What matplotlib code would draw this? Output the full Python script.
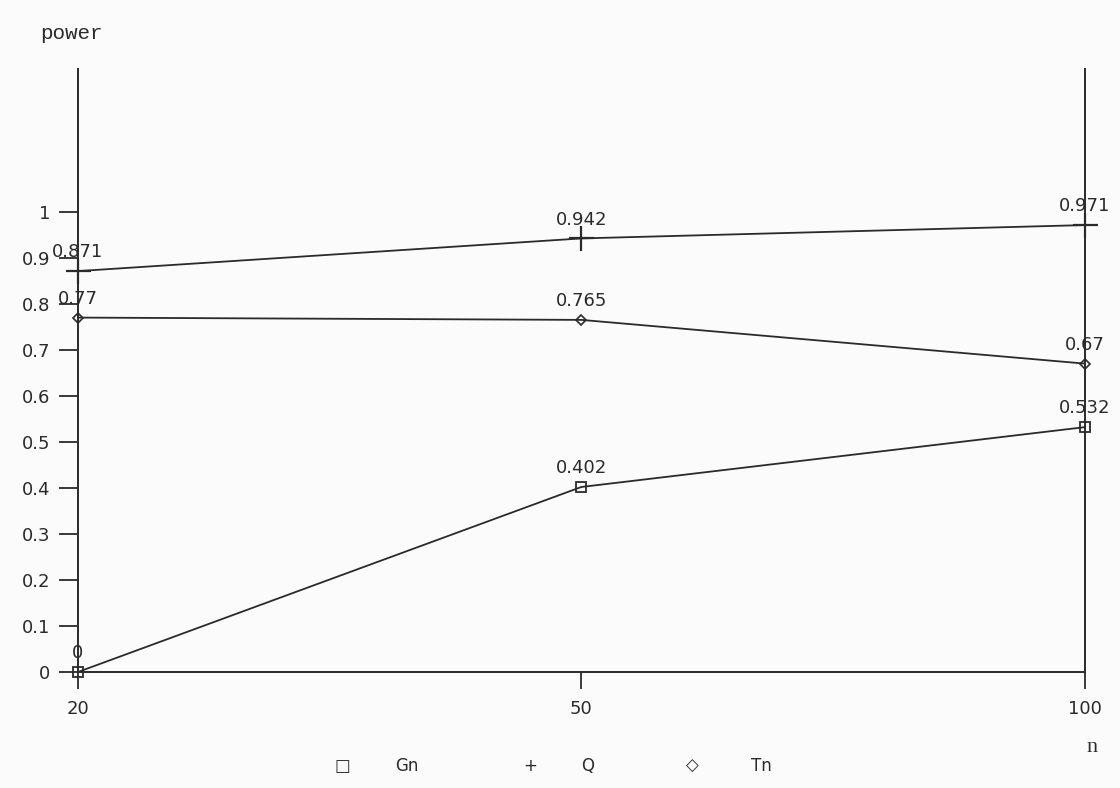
import matplotlib
matplotlib.use('Agg')
import matplotlib.pyplot as plt

# data
n_labels = ['20', '50', '100']
gn = [0.0, 0.402, 0.532]
q = [0.871, 0.942, 0.971]
tn = [0.77, 0.765, 0.67]
gn_text = ['0', '0.402', '0.532']
q_text = ['0.871', '0.942', '0.971']
tn_text = ['0.77', '0.765', '0.67']
yticks = [0, 0.1, 0.2, 0.3, 0.4, 0.5, 0.6, 0.7, 0.8, 0.9, 1]
ytick_labels = ['0', '0.1', '0.2', '0.3', '0.4', '0.5', '0.6', '0.7', '0.8', '0.9', '1']

ink = '#2a2a2a'
plt.rcParams['font.family'] = 'DejaVu Sans'
plt.rcParams['font.size'] = 13

fig = plt.figure(figsize=(11.2, 7.88), dpi=100)
fig.patch.set_facecolor('#fbfbfb')
ax = fig.add_axes([0.0696, 0.1472, 0.899, 0.7652])
ax.set_facecolor('#fbfbfb')

x = list(range(len(n_labels)))
ax.plot(x, gn, color=ink, lw=1.3, marker='s', ms=7, mfc='none', mec=ink, mew=1.3, clip_on=False, zorder=3)
ax.plot(x, q, color=ink, lw=1.3, marker='+', ms=18, mec=ink, mew=1.6, clip_on=False, zorder=3)
ax.plot(x, tn, color=ink, lw=1.3, marker='D', ms=5, mfc='none', mec=ink, mew=1.2, clip_on=False, zorder=3)

for vals, txts in [(gn, gn_text), (q, q_text), (tn, tn_text)]:
    for i in range(len(x)):
        ax.annotate(txts[i], (x[i], vals[i]), xytext=(0, 7), textcoords='offset points',
                    ha='center', va='bottom', fontsize=13, color=ink, zorder=4)

ax.set_xlim(0, 2)
ax.set_ylim(0, 1.31)
ax.set_xticks(x)
ax.set_xticklabels(n_labels)
ax.set_yticks(yticks)
ax.set_yticklabels(ytick_labels)
ax.tick_params(axis='x', direction='out', length=12, width=1.3, pad=8, colors=ink, labelsize=13)
ax.tick_params(axis='y', direction='out', length=14, width=1.3, pad=6, colors=ink, labelsize=13)
for s in ['left', 'right', 'bottom']:
    ax.spines[s].set_color(ink)
    ax.spines[s].set_linewidth(1.4)
ax.spines['top'].set_visible(False)

fig.text(0.036, 0.958, 'power', family='Liberation Mono', fontsize=15, color=ink, ha='left', va='center')
fig.text(0.975, 0.052, 'n', family='Liberation Serif', fontsize=16, color=ink, ha='center', va='center')

# legend row under the chart
leg_items = [('\u25a1', 0.306), ('Gn', 0.363), ('+', 0.473), ('Q', 0.525), ('\u25c7', 0.618), ('Tn', 0.680)]
for s, fx in leg_items:
    fig.text(fx, 0.016, s, fontsize=12, color=ink, ha='center', va='bottom')

fig.savefig('out.png', dpi=100, facecolor=fig.get_facecolor())
